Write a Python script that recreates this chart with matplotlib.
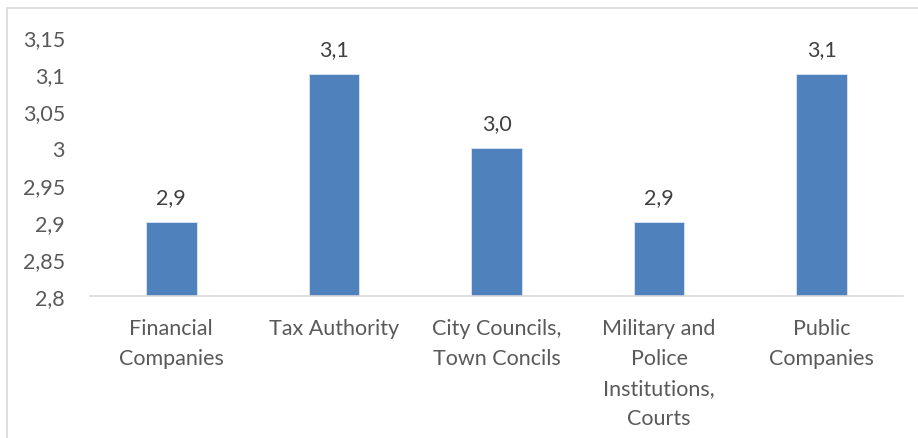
import matplotlib.pyplot as plt
from matplotlib.patches import Rectangle

categories = ['Financial\nCompanies', 'Tax Authority', 'City Councils,\nTown Concils',
              'Military and\nPolice\nInstitutions,\nCourts', 'Public\nCompanies']
values = [2.9, 3.1, 3.0, 2.9, 3.1]
value_labels = ['2,9', '3,1', '3,0', '2,9', '3,1']
y_ticks = [2.8, 2.85, 2.9, 2.95, 3.0, 3.05, 3.1, 3.15]
y_tick_labels = ['2,8', '2,85', '2,9', '2,95', '3', '3,05', '3,1', '3,15']


def main():
    plt.rcParams['font.family'] = ['Lato', 'DejaVu Sans']

    fig = plt.figure(figsize=(9.18, 4.39), dpi=100)
    # chart area frame, cut off on the right and bottom
    fig.patches.append(Rectangle((7 / 918, -0.5), 2.0, 1.5 - 9 / 439,
                                 transform=fig.transFigure, fill=False,
                                 edgecolor='#D9D9D9', linewidth=1.2))

    ax = fig.add_axes([90 / 918, 1 - 297 / 439, 813 / 918, 259 / 439])
    positions = range(len(categories))
    bars = ax.bar(positions, [v - 2.8 for v in values], bottom=2.8, width=0.31,
                  color='#4F81BD', edgecolor='#DCE6F2', linewidth=0.6)

    for rect, text in zip(bars, value_labels):
        ax.annotate(text, (rect.get_x() + rect.get_width() / 2, rect.get_y() + rect.get_height()),
                    xytext=(0, 18), textcoords='offset points', ha='center', va='center',
                    fontsize=15.5, color='#404040')

    ax.set_ylim(2.8, 3.15)
    ax.set_xlim(-0.5, len(categories) - 0.5)
    ax.set_yticks(y_ticks)
    ax.set_yticklabels(y_tick_labels)
    ax.set_xticks(list(positions))
    ax.set_xticklabels(categories, linespacing=1.62)
    ax.tick_params(axis='y', length=0, pad=18, labelsize=15.5, labelcolor='#595959')
    ax.tick_params(axis='x', length=0, pad=16, labelsize=15.5, labelcolor='#595959')

    for side in ['top', 'right', 'left']:
        ax.spines[side].set_visible(False)
    ax.spines['bottom'].set_color('#D9D9D9')
    ax.spines['bottom'].set_linewidth(1.2)

    fig.savefig('out.png', dpi=100)


if (__name__ == '__main__'):
    main()
